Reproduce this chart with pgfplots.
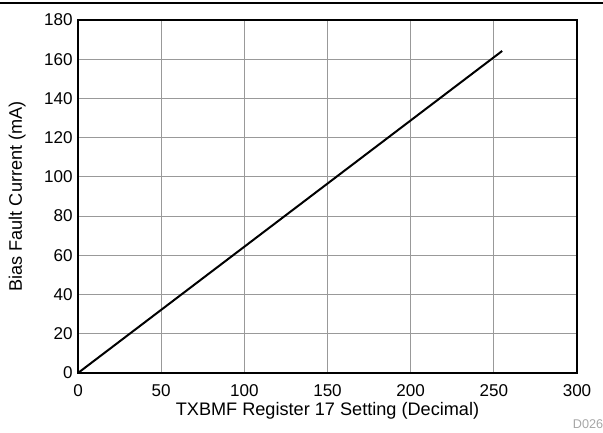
\documentclass[border=0pt]{standalone}
\usepackage{fontspec}
\setmainfont{Liberation Sans}
\usepackage{pgfplots}
\pgfplotsset{compat=1.18}

\begin{document}
\begin{tikzpicture}
  % page frame, 603 x 432 px at 0.75pt per px
  \useasboundingbox (0pt,0pt) rectangle (452.25pt,324pt);
  \draw[black, line width=0.8pt] (0pt,321.75pt) -- (452.25pt,321.75pt);
  \begin{axis}[
      at={(58.5pt,44.25pt)}, anchor=south west,
      scale only axis,
      width=374.25pt, height=264.75pt,
      xmin=0, xmax=300, ymin=0, ymax=180,
      xtick={0,50,...,300}, ytick={0,20,...,180},
      major tick length=0pt,
      grid=major,
      major grid style={gray!80, line width=0.6pt},
      axis line style={black, line width=1.5pt},
      tick label style={font=\fontsize{12.8}{14}\selectfont},
      label style={font=\fontsize{13.6}{15}\selectfont},
      /pgf/number format/assume math mode=true,
      xticklabel style={yshift=-5.5pt},
      yticklabel style={xshift=-0.5pt},
      xlabel={TXBMF Register 17 Setting (Decimal)},
      ylabel={Bias Fault Current (mA)},
      xlabel style={yshift=3pt},
      ylabel style={yshift=7pt},
      clip=false,
    ]
    \addplot[black, line width=1.5pt, mark=none] coordinates {
      (0,0) (255,164.2)
    };
  \end{axis}
  \begin{scope}
    \clip (0pt,0pt) rectangle (452.25pt,324pt);
    \node[anchor=base west, text=gray!70, font=\fontsize{9.5}{10}\selectfont, inner sep=0pt] at (429.5pt,3pt) {D026};
  \end{scope}
\end{tikzpicture}
\end{document}
